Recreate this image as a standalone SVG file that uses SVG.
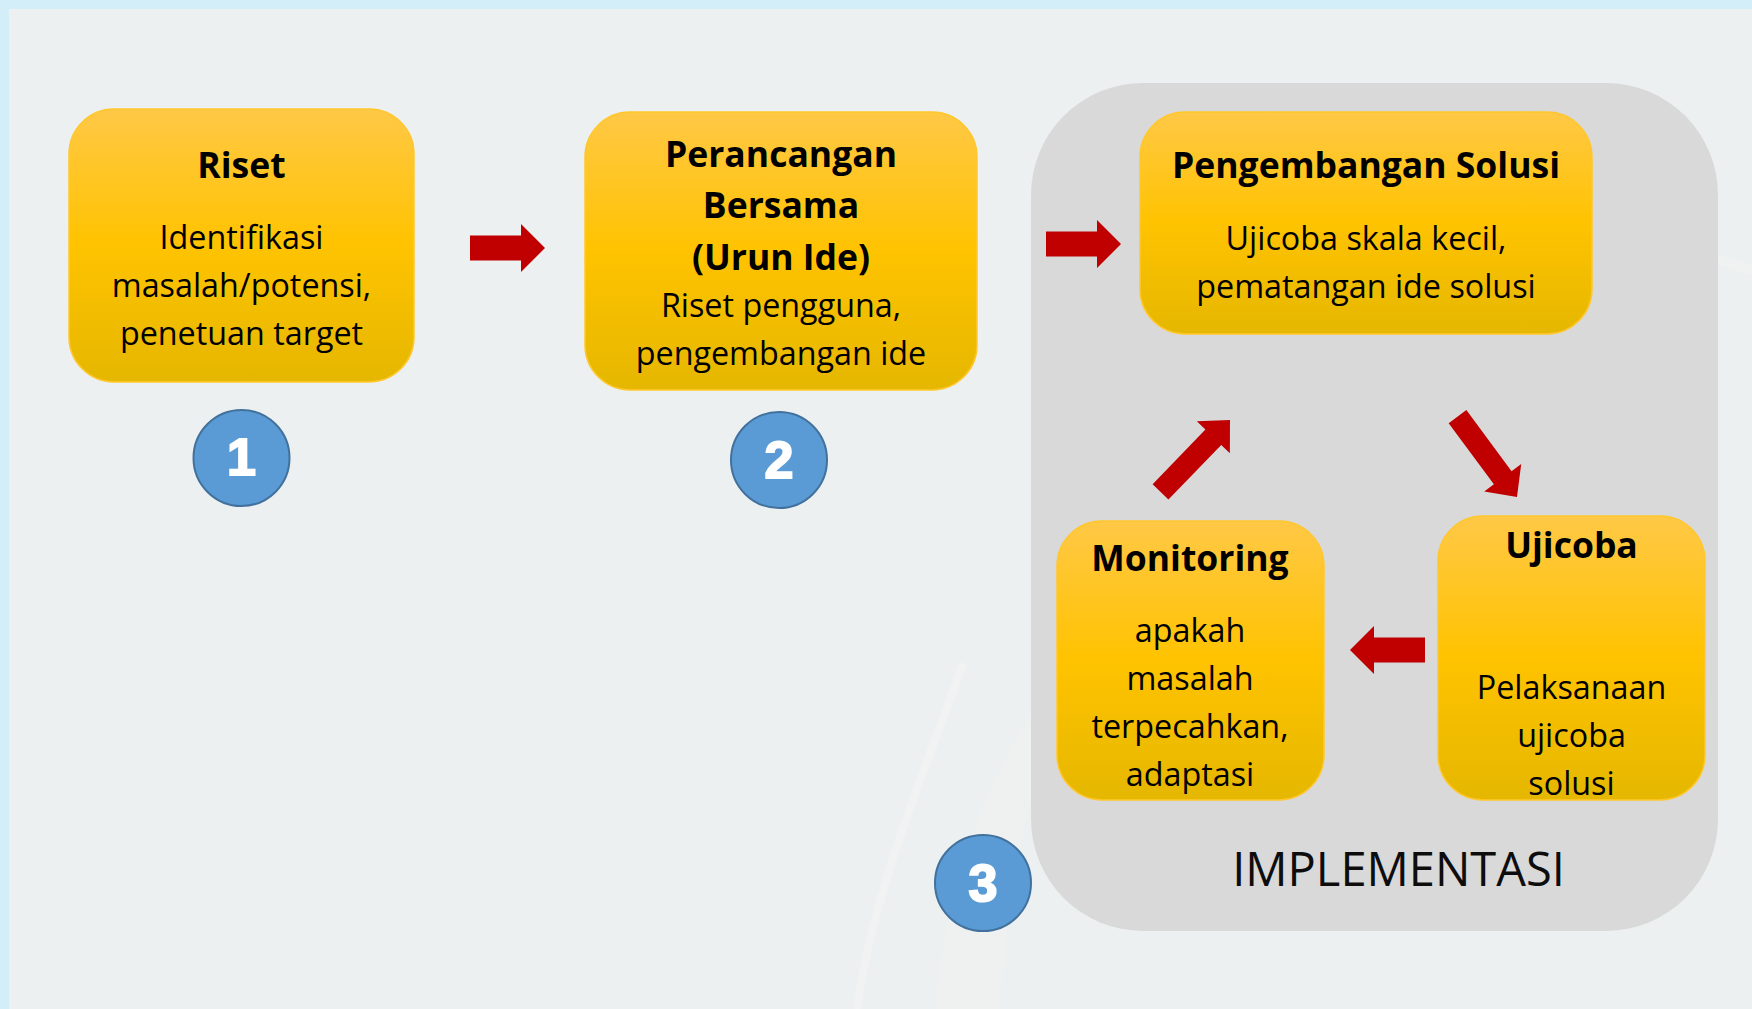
<svg xmlns="http://www.w3.org/2000/svg" width="1752" height="1009" viewBox="0 0 1752 1009">
  <defs>
    <linearGradient id="gold" x1="0" y1="0" x2="0" y2="1">
      <stop offset="0" stop-color="#FFC846"/>
      <stop offset="0.5" stop-color="#FFC300"/>
      <stop offset="1" stop-color="#E5B700"/>
    </linearGradient>
    <path id="arrH" d="M0,0 L-24,-24 L-24,-12.5 L-75,-12.5 L-75,12.5 L-24,12.5 L-24,24 Z"/>
    <path id="arrD" d="M0,0 L-24,-23 L-24,-11 L-100,-11 L-100,11 L-24,11 L-24,23 Z"/>
  </defs>
  <style>
    .box { fill: url(#gold); stroke: #FFC72C; stroke-width: 1.5; }
    .title { font-family: "Open Sans", "Noto Sans", sans-serif; font-weight: bold; font-size: 35.5px; fill: #000; text-anchor: middle; }
    .body { font-family: "Open Sans", "Noto Sans", sans-serif; font-size: 32.3px; fill: #000; text-anchor: middle; }
    .badge { fill: #5B9BD5; stroke: #41719C; stroke-width: 2; }
    .num { font-family: "Liberation Sans", Arial, sans-serif; font-weight: bold; font-size: 52px; fill: #FFFFFF; stroke: #FFFFFF; stroke-width: 2; text-anchor: middle; }
    .arrow { fill: #C00000; }
  </style>

  <!-- background -->
  <rect x="0" y="0" width="1752" height="1009" fill="#ECF0F1"/>
  <path d="M963,663 C930,760 875,880 857,1009" fill="none" stroke="#F3F4F4" stroke-width="8" opacity="0.7"/>
  <path d="M1040,700 C980,790 945,900 935,1009 L1000,1009 C1005,900 1025,800 1060,720 Z" fill="#F1F2F2" opacity="0.6"/>
  <path d="M1718,260 C1730,262 1745,268 1752,272" fill="none" stroke="#F3F4F4" stroke-width="10" opacity="0.6"/>
  <rect x="0" y="0" width="1752" height="9" fill="#D3EEF9"/>
  <rect x="0" y="0" width="9" height="1009" fill="#D3EEF9"/>

  <!-- implementation container -->
  <g id="implementasi">
    <rect x="1031" y="83" width="687" height="848" rx="112" ry="112" fill="#D9D9D9"/>
    <text x="1398.5" y="886" style="font-family:'Open Sans','Noto Sans',sans-serif;font-size:47px;fill:#0D0D0D;text-anchor:middle">IMPLEMENTASI</text>
  </g>

  <!-- nodes -->
  <g id="riset">
    <rect class="box" x="69" y="109" width="345" height="273" rx="45" ry="45"/>
    <text class="title" x="241.5" y="178">Riset</text>
    <text class="body" x="241.5" y="249">Identifikasi</text>
    <text class="body" x="241.5" y="297">masalah/potensi,</text>
    <text class="body" x="241.5" y="345">penetuan target</text>
  </g>

  <g id="perancangan">
    <rect class="box" x="585" y="112" width="392" height="278" rx="45" ry="45"/>
    <text class="title" x="781" y="167">Perancangan</text>
    <text class="title" x="781" y="218">Bersama</text>
    <text class="title" x="781" y="270">(Urun Ide)</text>
    <text class="body" x="781" y="317">Riset pengguna,</text>
    <text class="body" x="781" y="365">pengembangan ide</text>
  </g>

  <g id="pengembangan">
    <rect class="box" x="1140" y="112" width="452" height="222" rx="45" ry="45"/>
    <text class="title" x="1366" y="178">Pengembangan Solusi</text>
    <text class="body" x="1366" y="250">Ujicoba skala kecil,</text>
    <text class="body" x="1366" y="298">pematangan ide solusi</text>
  </g>

  <g id="monitoring">
    <rect class="box" x="1057" y="521" width="267" height="279" rx="45" ry="45"/>
    <text class="title" x="1190" y="571">Monitoring</text>
    <text class="body" x="1190" y="642">apakah</text>
    <text class="body" x="1190" y="690">masalah</text>
    <text class="body" x="1190" y="738">terpecahkan,</text>
    <text class="body" x="1190" y="786">adaptasi</text>
  </g>

  <g id="ujicoba">
    <rect class="box" x="1438" y="516" width="267" height="284" rx="45" ry="45"/>
    <text class="title" x="1571.5" y="558">Ujicoba</text>
    <text class="body" x="1571.5" y="699">Pelaksanaan</text>
    <text class="body" x="1571.5" y="747">ujicoba</text>
    <text class="body" x="1571.5" y="795">solusi</text>
  </g>

  <g id="badge1">
    <circle class="badge" cx="241.5" cy="458" r="48"/>
    <text class="num" x="241.5" y="475">1</text>
  </g>
  <g id="badge2">
    <circle class="badge" cx="779" cy="460" r="48"/>
    <text class="num" x="779" y="478">2</text>
  </g>
  <g id="badge3">
    <circle class="badge" cx="983" cy="883" r="48"/>
    <text class="num" x="983" y="901">3</text>
  </g>

  <!-- connectors -->
  <g id="connectors">
    <use href="#arrH" class="arrow" transform="translate(545,248)"/>
    <use href="#arrH" class="arrow" transform="translate(1121,244)"/>
    <use href="#arrD" class="arrow" transform="translate(1517,497) rotate(53.5)"/>
    <use href="#arrH" class="arrow" transform="translate(1350,650) rotate(180)"/>
    <use href="#arrD" class="arrow" transform="translate(1230,420) rotate(-46)"/>
  </g>
</svg>
